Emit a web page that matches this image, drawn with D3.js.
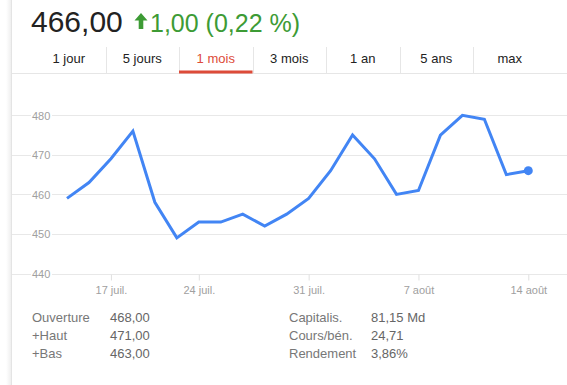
<!DOCTYPE html>
<html>
<head>
<meta charset="utf-8">
<script src="https://cdn.jsdelivr.net/npm/d3@7"></script>
<style>
  html, body { margin: 0; padding: 0; background: #fff; }
  svg { display: block; font-family: "Liberation Sans", Arial, sans-serif; }
</style>
</head>
<body>
<div id="chart"></div>
<script>
// Cours sur 1 mois (jours de bourse)
const dates = [
  "2014-07-15","2014-07-16","2014-07-17","2014-07-18","2014-07-22","2014-07-23",
  "2014-07-24","2014-07-25","2014-07-28","2014-07-29","2014-07-30","2014-07-31",
  "2014-08-01","2014-08-04","2014-08-05","2014-08-06","2014-08-07","2014-08-08",
  "2014-08-11","2014-08-12","2014-08-13","2014-08-14"
];
const prices = [459,463,469,476,458,449,453,453,455,452,455,459,466,475,469,460,461,475,480,479,465,466];

const yTicks = [440, 450, 460, 470, 480];
const xTickDates = ["2014-07-17","2014-07-24","2014-07-31","2014-08-07","2014-08-14"];
const xTickLabels = ["17 juil.","24 juil.","31 juil.","7 août","14 août"];

const tabs = ["1 jour","5 jours","1 mois","3 mois","1 an","5 ans","max"];
const activeTab = "1 mois";

const statsLeft = [["Ouverture","468,00"],["+Haut","471,00"],["+Bas","463,00"]];
const statsRight = [["Capitalis.","81,15 Md"],["Cours/bén.","24,71"],["Rendement","3,86%"]];

const W = 567, H = 385;
const svg = d3.select("#chart").append("svg").attr("width", W).attr("height", H);

// bordure gauche (ombre légère)
const grad = svg.append("defs").append("linearGradient").attr("id","shade");
grad.append("stop").attr("offset","0%").attr("stop-color","#fff");
grad.append("stop").attr("offset","100%").attr("stop-color","#ececec");
svg.append("rect").attr("x",6).attr("y",0).attr("width",6).attr("height",H).attr("fill","url(#shade)");
svg.append("line").attr("x1",11.5).attr("x2",11.5).attr("y1",0).attr("y2",H).attr("stroke","#e4e4e4");

// En-tête : cours + variation
svg.append("text").attr("x",31).attr("y",31.5)
  .style("font-size","30px").style("fill","#222").text("466,00");
svg.append("path")
  .attr("d","M141,13 L147.5,20.5 L143.3,20.5 L143.3,29 L138.7,29 L138.7,20.5 L134.5,20.5 Z")
  .attr("fill","#3d9b35");
svg.append("text").attr("x",150).attr("y",31.5)
  .style("font-size","25px").style("fill","#3d9b35").text("1,00 (0,22 %)");

// Onglets
const tabX = d3.scaleBand().domain(tabs).range([32, 546.5]);
svg.append("line").attr("x1",12).attr("x2",W).attr("y1",73.5).attr("y2",73.5).attr("stroke","#e6e6e6");
svg.selectAll(".sep").data(tabs.slice(1)).enter().append("line")
  .attr("x1", d => Math.round(tabX(d)) + 0.5).attr("x2", d => Math.round(tabX(d)) + 0.5)
  .attr("y1",47).attr("y2",73).attr("stroke","#e6e6e6");
svg.append("rect")
  .attr("x", tabX(activeTab)).attr("y",70.5).attr("width", tabX.bandwidth()).attr("height",3)
  .attr("fill","#dd4b39");
svg.selectAll(".tab").data(tabs).enter().append("text")
  .attr("x", d => tabX(d) + tabX.bandwidth()/2).attr("y",63)
  .attr("text-anchor","middle").style("font-size","13px")
  .style("fill", d => d === activeTab ? "#dd4b39" : "#222")
  .text(d => d);

// Graphique
const x = d3.scalePoint().domain(dates).range([67, 528.3]);
const y = d3.scaleLinear().domain([440, 480]).range([273.5, 115.3]);

const grid = svg.append("g");
grid.selectAll("line").data(yTicks).enter().append("line")
  .attr("x1",12).attr("x2",W)
  .attr("y1", d => Math.round(y(d)) + 0.5).attr("y2", d => Math.round(y(d)) + 0.5)
  .attr("stroke","#e8e8e8");

// étiquettes Y avec fond blanc
const yl = svg.append("g");
yl.selectAll("rect").data(yTicks).enter().append("rect")
  .attr("x",31).attr("y", d => y(d) - 5).attr("width",21).attr("height",10).attr("fill","#fff");
yl.selectAll("text").data(yTicks).enter().append("text")
  .attr("x",32).attr("y", d => y(d) + 4.5)
  .style("font-size","11px").style("fill","#a0a0a0")
  .text(d => d);

// axe X
const xAxis = d3.axisBottom(x)
  .tickValues(xTickDates)
  .tickSize(6)
  .tickPadding(6)
  .tickFormat(d => xTickLabels[xTickDates.indexOf(d)]);
svg.append("g")
  .attr("transform", `translate(0,${Math.round(y(440)) + 0.5})`)
  .call(xAxis)
  .call(g => g.select(".domain").remove())
  .call(g => g.selectAll("line").attr("stroke","#e0e0e0"))
  .call(g => g.selectAll("text")
    .style("font-size","11px").style("fill","#a0a0a0")
    .style("font-family","\"Liberation Sans\", Arial, sans-serif"));

// Ligne de cours
const line = d3.line().x((d,i) => x(dates[i])).y(d => y(d));
svg.append("path").datum(prices)
  .attr("d", line)
  .attr("fill","none").attr("stroke","#4285f4")
  .attr("stroke-width",3).attr("stroke-linejoin","miter");
svg.append("circle")
  .attr("cx", x(dates[dates.length-1])).attr("cy", y(prices[prices.length-1]))
  .attr("r",4.5).attr("fill","#4285f4");

// Statistiques
function drawStats(rows, x0, x1){
  const g = svg.append("g");
  g.selectAll(".lab").data(rows).enter().append("text")
    .attr("x",x0).attr("y",(d,i) => 322 + i*18)
    .style("font-size","13px").style("fill","#777").text(d => d[0]);
  g.selectAll(".val").data(rows).enter().append("text")
    .attr("x",x1).attr("y",(d,i) => 322 + i*18)
    .style("font-size","13px").style("fill","#666").text(d => d[1]);
}
drawStats(statsLeft, 32, 110);
drawStats(statsRight, 289, 371);
</script>
</body>
</html>
